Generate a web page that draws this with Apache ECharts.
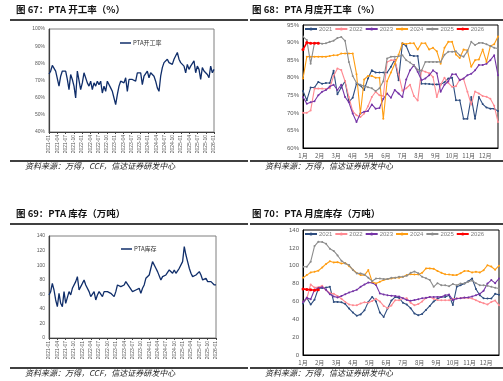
<!DOCTYPE html>
<html><head><meta charset="utf-8">
<script src="https://cdn.jsdelivr.net/npm/echarts@6/dist/echarts.min.js"></script>
<style>html,body{margin:0;padding:0;background:#fff}#c{width:503px;height:381px}</style>
</head><body><div id="c"></div>
<script>
// ---------- tick labels / categories ----------
const quarterLabels = ['2021-01','2021-04','2021-07','2021-10','2022-01','2022-04','2022-07','2022-10',
  '2023-01','2023-04','2023-07','2023-10','2024-01','2024-04','2024-07','2024-10',
  '2025-01','2025-04','2025-07','2025-10','2026-01'];
const monthLabels = ['1月','2月','3月','4月','5月','6月','7月','8月','9月','10月','11月','12月'];
const years = ['2021','2022','2023','2024','2025','2026'];

// ---------- series values ----------
const ptaRate = [73.8,75.5,78.8,78.0,75.5,76.5,66.7,72.5,75.5,74.5,75.5,
  70.6,64.7,73.5,70.6,66.7,59.8,75.5,74.5,64.7,68.6,
  74.5,73.5,68.6,66.7,69.6,64.7,68.6,66.7,69.6,67.6,
  69.6,62.7,66.7,63.7,69.6,70.6,65.7,63.7,59.8,55.9,
  61.8,66.7,69.6,70.6,68.6,71.6,63.7,70.6,71.6,70.6,71.0,
  69.6,74.5,73.5,74.5,67.6,72.5,73.5,75.5,71.6,74.5,
  73.5,72.5,69.6,65.7,63.7,72.5,77.5,80.4,79.4,82.4,
  80.4,81.4,79.4,82.4,81.4,86.3,82.4,80.4,79.4,78.4,
  74.5,79.4,76.5,78.4,79.4,81.4,74.5,78.4,76.5,70.6,
  77.5,75.5,76.5,73.5,71.6,78.4,74.5,76.5];

const ptaStock = [59.1,63.6,75.0,65.9,52.2,43.0,61.3,47.6,43.0,63.6,47.6,
  45.3,63.6,59.1,68.2,65.9,77.4,84.2,65.9,63.6,75.0,
  79.7,72.8,75.0,63.6,56.8,59.1,63.6,52.2,59.1,63.6,
  61.3,56.8,63.6,61.3,63.6,61.3,61.3,59.1,56.8,63.6,
  72.8,75.0,70.5,68.2,72.8,77.4,79.7,70.5,68.2,63.6,64.5,
  65.9,63.6,68.2,61.3,68.2,72.8,81.9,79.7,86.5,95.7,
  104.8,102.5,95.7,91.1,88.8,79.7,84.2,81.9,86.5,84.2,
  93.4,91.1,88.8,93.4,88.8,91.1,95.7,97.9,104.8,125.4,
  113.9,104.8,95.7,88.8,84.2,84.2,86.5,84.2,91.1,86.5,
  79.7,77.4,81.9,77.4,79.7,77.4,75.0,72.8,72.8];

// weekly operating rate by year (%)
const rate2021 = [76.2,73.6,77.2,77.2,78.8,78.3,78.5,78.5,82.0,75.3,77.2,79.0,73.1,74.3,78.3,77.8,76.5,79.8,82.1,81.5,
  81.5,81.5,81.5,83.1,85.2,79.3,89.8,89.0,86.4,86.2,86.2,78.3,78.3,78.2,78.1,78.1,78.1,78.7,79.8,80.0,
  73.6,73.6,68.3,68.3,74.5,68.3,74.5,72.5,71.5,71.2,71.2,70.5];
const rate2022 = [70.0,70.0,70.7,76.9,76.9,76.9,76.8,77.0,80.5,82.6,82.2,79.0,74.5,70.5,69.3,68.8,69.8,71.9,74.5,76.0,
  75.0,74.8,84.5,85.0,85.0,81.0,76.3,77.0,78.0,74.8,73.5,82.1,81.7,81.3,80.2,74.5,78.0,80.0,78.5,77.4,
  77.6,79.5,79.6,76.0,72.4,76.1,75.5,74.8,74.6,74.0,72.0,67.4];
const rate2023 = [74.5,72.6,73.0,73.3,75.0,76.0,76.5,77.5,78.0,76.5,78.0,74.5,73.0,69.8,67.4,69.8,70.3,70.5,72.4,71.2,
  71.4,74.0,75.5,74.3,76.5,75.5,74.5,79.5,82.1,83.6,81.7,79.3,79.8,80.7,82.1,81.3,76.0,78.0,79.0,81.0,
  81.0,79.3,79.8,80.7,81.1,82.1,83.6,83.6,84.0,85.0,86.4,80.7];
const rate2024 = [79.8,86.0,86.0,86.0,86.0,86.0,86.0,86.2,86.4,86.4,86.9,86.9,86.9,86.9,81.0,69.8,79.5,80.5,80.5,80.0,
  80.0,68.3,79.0,81.5,84.0,86.5,89.8,89.6,89.8,89.8,88.0,89.8,89.8,88.0,88.5,87.5,84.0,88.5,90.2,90.2,
  86.6,85.6,88.0,87.8,83.1,85.0,85.2,88.0,84.5,89.0,89.5,91.7];
const rate2025 = [91.7,90.7,84.0,89.9,89.9,89.7,89.8,90.2,90.5,91.3,91.6,90.5,84.5,80.5,78.5,78.0,77.6,77.3,77.0,76.2,
  77.0,79.0,85.5,86.0,86.0,86.1,86.4,85.0,84.3,83.5,82.3,82.0,84.5,84.5,84.5,84.5,84.5,86.5,87.4,87.4,
  87.5,86.4,86.0,87.5,90.2,89.3,89.9,89.9,89.5,89.0,88.5,88.3];
const rate2026 = [88.0,90.0,89.8,89.8,89.8];

// weekly inventory by year (10k t)
const stock2021 = [57.7,64.0,56.5,62.0,74.5,75.0,75.5,76.4,59.5,59.5,59.0,57.0,52.0,47.5,44.0,45.5,50.0,59.5,65.1,60.0,
  47.5,42.7,52.0,61.0,65.1,64.0,58.5,56.5,52.5,46.5,44.6,46.0,50.5,55.0,60.0,63.0,65.0,65.0,67.0,56.0,
  76.4,78.0,80.1,82.5,85.7,74.0,67.0,63.5,63.3,63.3,68.5,67.5];
const stock2022 = [59.5,63.3,79.0,75.5,76.0,77.5,72.6,69.5,68.5,66.0,63.0,59.5,56.5,55.8,55.8,57.7,59.0,58.5,60.5,63.0,
  60.0,55.0,52.5,55.5,61.4,61.4,63.5,63.5,58.5,55.8,57.0,60.0,63.8,65.0,63.0,61.5,61.4,61.4,61.4,63.0,
  63.3,63.8,64.0,64.0,63.3,61.4,59.5,58.0,56.5,59.5,61.0,55.8];
const stock2023 = [59.5,64.0,62.5,73.0,75.0,76.0,73.0,68.0,65.5,64.5,66.0,68.0,70.0,71.5,73.0,76.4,79.0,81.2,81.0,78.5,
  69.0,67.8,67.0,66.5,66.0,65.5,63.5,61.5,60.8,61.5,62.5,63.5,64.0,65.0,65.0,65.1,65.1,67.0,67.8,61.4,
  63.3,63.5,64.3,64.5,65.5,67.0,68.5,72.0,80.0,83.9,80.5,85.7];
const stock2024 = [86.5,89.5,92.5,93.2,94.5,98.0,102.0,105.0,103.7,104.0,102.5,103.0,99.5,95.5,91.8,89.5,89.5,95.1,82.0,80.1,
  82.0,83.9,85.0,85.7,86.5,86.5,87.6,89.5,90.5,90.2,90.2,92.0,97.0,97.0,96.5,94.0,92.0,90.5,90.2,89.5,
  89.5,91.5,94.0,94.0,92.5,93.2,92.5,95.0,100.5,99.0,95.5,100.0];
const stock2025 = [98.8,98.8,104.5,122.0,126.9,126.5,124.5,119.0,116.5,111.5,105.5,102.5,100.7,95.1,91.4,91.4,90.0,86.5,82.7,85.7,
  85.7,85.0,85.0,86.5,86.5,87.6,87.6,88.7,92.0,93.5,91.5,87.6,86.0,84.0,76.4,80.5,78.2,78.2,77.0,79.5,
  78.2,80.1,80.1,82.0,83.5,80.5,78.2,78.2,77.5,76.4,75.3,74.5];
const stock2026 = [74.0,73.5,73.0,72.5,73.2];

// ---------- styling ----------
const yearColors = ['#2E4D7F','#FF8A92','#7534A6','#FF9D12','#8C8C8C','#FF0000'];
const navy = '#102E6A';
const cjk = '"Noto Sans CJK SC", "Noto Sans", sans-serif';

const rateByYear = [rate2021, rate2022, rate2023, rate2024, rate2025, rate2026];
const stockByYear = [stock2021, stock2022, stock2023, stock2024, stock2025, stock2026];

const weekPoints = arr => arr.map((v, i) => [i, v]);
const spreadPoints = arr => arr.map((v, i) => [i * (quarterLabels.length - 1) / (arr.length - 1), v]);
const monthFmt = v => { const m = v * 12 / 52; const r = Math.round(m); return (Math.abs(m - r) < 0.01 && r < 12) ? monthLabels[r] : ''; };

const chart = echarts.init(document.getElementById('c'));

function quarterXAxis(gi) {
  return { type: 'value', gridIndex: gi, min: 0, max: quarterLabels.length - 1, interval: 1,
    axisLine: { show: true, lineStyle: { color: '#404040', width: 1.2 } },
    axisTick: { show: true, length: 2, lineStyle: { color: '#404040' } },
    splitLine: { show: false },
    axisLabel: { rotate: 90, fontSize: 5, color: '#595959', margin: 3, fontFamily: 'Liberation Sans',
      formatter: v => quarterLabels[Math.round(v)] || '' } };
}
function monthXAxis(gi) {
  return { type: 'value', gridIndex: gi, min: 0, max: 51, interval: 52 / 12,
    axisLine: { show: true, lineStyle: { color: '#000', width: 1 } },
    axisTick: { show: false }, splitLine: { show: false },
    axisLabel: { fontSize: 6, color: '#595959', margin: 5, fontFamily: cjk, formatter: monthFmt, showMaxLabel: true } };
}
function yAxis(gi, min, max, interval, pct, fs) {
  return { type: 'value', gridIndex: gi, min, max, interval,
    axisLine: { show: true, lineStyle: { color: gi % 2 ? '#000' : '#404040', width: gi % 2 ? 1 : 1.2 } },
    axisTick: { show: false }, splitLine: { show: false },
    axisLabel: { fontSize: fs, color: '#595959', margin: 4, fontFamily: 'Liberation Sans',
      formatter: pct ? '{value}%' : '{value}' } };
}

const series = [];
series.push({ name: 'PTA开工率', type: 'line', xAxisIndex: 0, yAxisIndex: 0, data: spreadPoints(ptaRate),
  showSymbol: false, lineStyle: { width: 1.3, color: navy }, itemStyle: { color: navy } });
series.push({ name: 'PTA库存', type: 'line', xAxisIndex: 2, yAxisIndex: 2, data: spreadPoints(ptaStock),
  showSymbol: false, lineStyle: { width: 1.3, color: navy }, itemStyle: { color: navy } });
years.forEach((y, k) => {
  const base = { name: y, type: 'line', symbol: 'circle', symbolSize: k === 5 ? 3 : 2, showAllSymbol: true,
    lineStyle: { width: k === 5 ? 1.6 : 1.1, color: yearColors[k] }, itemStyle: { color: yearColors[k] }, z: k === 5 ? 10 : 2 + k };
  series.push(Object.assign({}, base, { xAxisIndex: 1, yAxisIndex: 1, data: weekPoints(rateByYear[k]) }));
  series.push(Object.assign({}, base, { xAxisIndex: 3, yAxisIndex: 3, data: weekPoints(stockByYear[k]) }));
});

const titleStyle = { fontSize: 9.5, fontWeight: 'bold', color: '#111', fontFamily: cjk };
const srcFont = { fontSize: 8, fontStyle: 'italic', fontFamily: cjk, fill: '#222', verticalAlign: 'middle' };
const hline = (x1, x2, y) => ({ type: 'line', shape: { x1, y1: y, x2, y2: y }, style: { stroke: '#000', lineWidth: 1.3 }, silent: true });
const src = (x, y, t) => ({ type: 'text', x, y, style: Object.assign({ text: t }, srcFont), silent: true });

const yearLegend = top => ({ data: years, left: 304, top, itemWidth: 12, itemHeight: 4, itemGap: 2,
  textStyle: { fontSize: 6, color: '#7f7f7f', fontFamily: 'Liberation Sans', padding: [0, 0, 0, -3] }, padding: 0 });

chart.setOption({
  animation: false,
  backgroundColor: '#fff',
  title: [
    { text: '图 67：PTA 开工率（%）', left: 16, top: 5, padding: 0, textStyle: titleStyle },
    { text: '图 68：PTA 月度开工率（%）', left: 252, top: 5, padding: 0, textStyle: titleStyle },
    { text: '图 69：PTA 库存（万吨）', left: 16, top: 209, padding: 0, textStyle: titleStyle },
    { text: '图 70：PTA 月度库存（万吨）', left: 252, top: 209, padding: 0, textStyle: titleStyle }
  ],
  legend: [
    { data: ['PTA开工率'], left: 120, top: 40, icon: 'rect', itemWidth: 11, itemHeight: 1.5, padding: 0,
      textStyle: { fontSize: 6, color: '#333', fontFamily: cjk, padding: [0, 0, 0, -3] } },
    yearLegend(26),
    { data: ['PTA库存'], left: 121, top: 246, icon: 'rect', itemWidth: 11, itemHeight: 1.5, padding: 0,
      textStyle: { fontSize: 6, color: '#333', fontFamily: cjk, padding: [0, 0, 0, -3] } },
    yearLegend(231)
  ],
  grid: [
    { left: 49, top: 29, width: 165, height: 103, show: true, borderColor: '#7f7f7f', borderWidth: 1 },
    { left: 303, top: 25, width: 195, height: 123, show: true, borderColor: '#000', borderWidth: 1 },
    { left: 49, top: 236, width: 167, height: 102, show: true, borderColor: '#7f7f7f', borderWidth: 1 },
    { left: 303, top: 230, width: 196, height: 125, show: true, borderColor: '#000', borderWidth: 1 }
  ],
  xAxis: [quarterXAxis(0), monthXAxis(1), quarterXAxis(2), monthXAxis(3)],
  yAxis: [yAxis(0, 40, 100, 10, true, 5), yAxis(1, 60, 95, 5, true, 6), yAxis(2, 0, 140, 20, false, 5), yAxis(3, 0, 140, 20, false, 6)],
  series,
  graphic: [
    hline(10, 248, 20), hline(250, 503, 20),
    hline(10, 248, 161), hline(250, 503, 161),
    hline(10, 248, 224), hline(250, 503, 224),
    hline(10, 248, 368), hline(250, 503, 368),
    src(25, 166, '资料来源：万得，CCF，信达证券研发中心'),
    src(265, 166, '资料来源：万得，信达证券研发中心'),
    src(25, 373, '资料来源：万得，CCF，信达证券研发中心'),
    src(265, 373, '资料来源：万得，信达证券研发中心')
  ]
});
</script></body></html>
